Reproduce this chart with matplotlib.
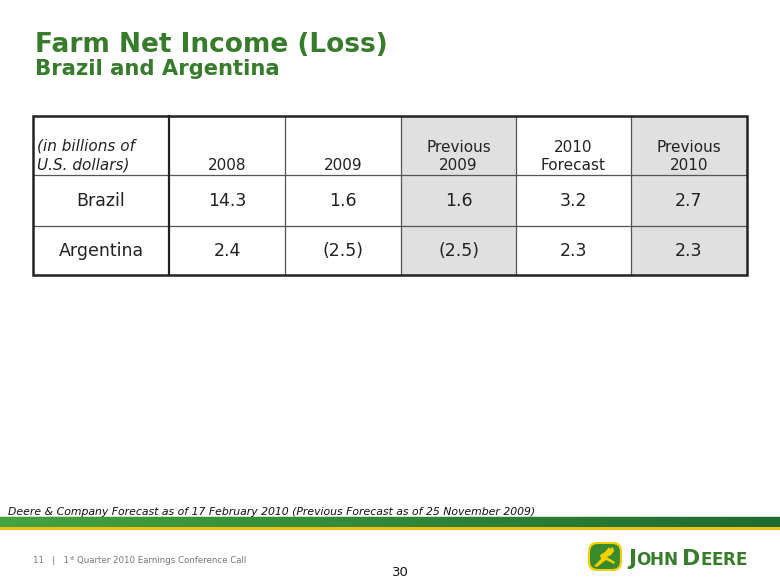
import matplotlib
matplotlib.use("Agg")
import matplotlib.pyplot as plt
from matplotlib.patches import Rectangle, FancyBboxPatch, Polygon
import numpy as np

# ---- data ----
title = "Farm Net Income (Loss)"
subtitle = "Brazil and Argentina"
unit_label = "(in billions of\nU.S. dollars)"
columns = ["2008", "2009", "Previous\n2009", "2010\nForecast", "Previous\n2010"]
shaded = [False, False, True, False, True]
rows = ["Brazil", "Argentina"]
values = [["14.3", "1.6", "1.6", "3.2", "2.7"],
          ["2.4", "(2.5)", "(2.5)", "2.3", "2.3"]]
footnote = "Deere & Company Forecast as of 17 February 2010 (Previous Forecast as of 25 November 2009)"
page_num = "30"

W, H = 780, 585
fig = plt.figure(figsize=(W / 100, H / 100), dpi=100)
ax = fig.add_axes([0, 0, 1, 1])
ax.set_xlim(0, W)
ax.set_ylim(H, 0)
ax.axis("off")

GREEN = "#367C2B"
plt.rcParams["font.family"] = ["DejaVu Sans"]

# ---- titles ----
ax.text(35, 52, title, fontsize=19, fontweight="bold", color=GREEN, va="baseline", ha="left")
ax.text(35, 75, subtitle, fontsize=15.2, fontweight="bold", color=GREEN, va="baseline", ha="left")

# ---- table ----
col_edges = [33, 169, 285, 401, 516, 631, 747]
row_edges = [116, 175, 226, 275]
GRAY = "#e0e0e0"
for j, sh in enumerate(shaded):
    if sh:
        ax.add_patch(Rectangle((col_edges[j + 1], row_edges[0]),
                               col_edges[j + 2] - col_edges[j + 1],
                               row_edges[-1] - row_edges[0],
                               facecolor=GRAY, edgecolor="none", zorder=1))
for x in col_edges[2:-1]:
    ax.plot([x, x], [row_edges[0], row_edges[-1]], color="#555555", lw=0.9, zorder=2)
for y in row_edges[1:-1]:
    ax.plot([col_edges[0], col_edges[-1]], [y, y], color="#555555", lw=0.9, zorder=2)
ax.plot([col_edges[1], col_edges[1]], [row_edges[0], row_edges[-1]], color="#222222", lw=1.6, zorder=3)
ax.add_patch(Rectangle((col_edges[0], row_edges[0]), col_edges[-1] - col_edges[0],
                       row_edges[-1] - row_edges[0], facecolor="none",
                       edgecolor="#222222", lw=1.8, zorder=3))

TXT = "#222222"
ax.text(37, 170, unit_label, fontsize=11, style="italic", color=TXT, ha="left",
        va="baseline", linespacing=1.35, zorder=4)
for j, c in enumerate(columns):
    cx = (col_edges[j + 1] + col_edges[j + 2]) / 2
    ax.text(cx, 169.5, c, fontsize=11, color=TXT, ha="center", va="baseline",
            linespacing=1.25, zorder=4, multialignment="center")
for i, r in enumerate(rows):
    cy = (row_edges[i + 1] + row_edges[i + 2]) / 2
    ax.text((col_edges[0] + col_edges[1]) / 2, cy, r, fontsize=12.5, color=TXT,
            ha="center", va="center", zorder=4)
    for j, v in enumerate(values[i]):
        cx = (col_edges[j + 1] + col_edges[j + 2]) / 2
        ax.text(cx, cy, v, fontsize=12.5, color=TXT, ha="center", va="center", zorder=4)

# ---- footnote ----
ax.text(8, 515, footnote, fontsize=7.85, style="italic", color="#111111", ha="left", va="baseline")

# ---- green / yellow band ----
grad = np.linspace(0, 1, 256)
greens = np.array([[0.27, 0.64, 0.25], [0.12, 0.42, 0.19]])
band = greens[0][None, :] * (1 - grad[:, None]) + greens[1][None, :] * grad[:, None]
ax.imshow(band[None, :, :], extent=(0, W, 527, 517), aspect="auto", zorder=1)
ax.add_patch(Rectangle((0, 516), W, 1.2, facecolor="#cfe3c8", edgecolor="none", zorder=2))
ax.add_patch(Rectangle((0, 527), W, 3.2, facecolor="#f2bf1a", edgecolor="none", zorder=2))

# ---- footer ----
FG = "#777777"
fig.canvas.draw()
r = fig.canvas.get_renderer()
inv = ax.transData.inverted()
t0 = ax.text(33, 563, "11   |   1", fontsize=6.2, color=FG, ha="left", va="baseline")
x1 = inv.transform((t0.get_window_extent(r).x1, 0))[0]
ts = ax.text(x1 + 0.5, 559.5, "st", fontsize=4.2, color=FG, ha="left", va="baseline")
x2 = inv.transform((ts.get_window_extent(r).x1, 0))[0]
ax.text(x2 + 2, 563, "Quarter 2010 Earnings Conference Call", fontsize=6.2, color=FG,
        ha="left", va="baseline")
ax.text(400, 576, page_num, fontsize=9.5, color="#111111", ha="center", va="baseline",
        family="Liberation Sans Narrow")

# ---- logo ----
ax.add_patch(FancyBboxPatch((588, 542), 34, 29, boxstyle="round,pad=0,rounding_size=9",
                            facecolor="#f5d000", edgecolor="none", zorder=3))
ax.add_patch(FancyBboxPatch((590, 544), 30, 25, boxstyle="round,pad=0,rounding_size=8",
                            facecolor="#3a8a2e", edgecolor="none", zorder=4))
deer = [(594, 566), (601, 559), (600, 555), (605, 552), (609, 547), (610, 549),
        (613, 547), (614, 551), (611, 555), (607, 557), (615, 562), (614, 564),
        (606, 560), (597, 567)]
ax.add_patch(Polygon(deer, closed=True, facecolor="#f5d000", edgecolor="none", zorder=5))

x = 628
for word in ["JOHN", "DEERE"]:
    for k, ch in enumerate(word):
        fs = 15.8 if k == 0 else 12.2
        t = ax.text(x, 565, ch, fontsize=fs, color=GREEN, ha="left", va="baseline",
                    fontweight="bold", zorder=5)
        x = inv.transform((t.get_window_extent(r).x1, 0))[0] - 0.3
    x += 5

fig.savefig("out.png", dpi=100)
